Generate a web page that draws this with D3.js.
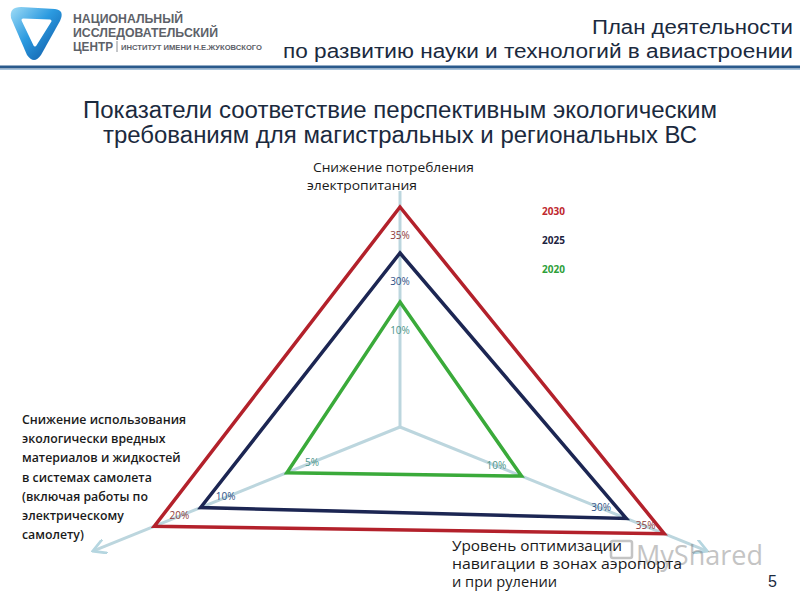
<!DOCTYPE html>
<html><head><meta charset="utf-8">
<script src="https://cdn.jsdelivr.net/npm/d3@7"></script>
<style>body{margin:0;background:#fff}svg{display:block}</style>
</head><body>
<svg id="c" width="800" height="600"></svg>
<script>
// ---- data ----
const axisNames = ["top", "right", "left"];
const axisLabelTop = ["Снижение потребления", "электропитания"];
const axisLabelRight = ["Уровень оптимизации", "навигации в зонах аэропорта", "и при рулении"];
const axisLabelLeft = ["Снижение использования", "экологически вредных", "материалов и жидкостей", "в системах самолета", "(включая работы по", "электрическому", "самолету)"];
const years = ["2030", "2025", "2020"];
const values2030 = [35, 35, 20];
const values2025 = [30, 30, 10];
const values2020 = [10, 10, 5];
const seriesValues = [values2030, values2025, values2020];

// ---- layout / style ----
const svg = d3.select("#c");
const cx = 400, cy = 427;
const deg = Math.PI / 180;
const axisAngle = { top: -90 * deg, right: 22 * deg, left: 158 * deg };
const axisLen = { top: 236, right: 330, left: 330 };
// per-axis (non-uniform, as drawn in the original) radial scales
const rScale = {
  top: d3.scaleLinear().domain([0, 10, 30, 35]).range([0, 125, 174, 220]),
  right: d3.scaleLinear().domain([0, 10, 30, 35]).range([0, 131, 244, 285]),
  left: d3.scaleLinear().domain([0, 5, 10, 20]).range([0, 122, 215, 265])
};
const lineColor = d3.scaleOrdinal().domain(years).range(["#b3212b", "#1c2653", "#3aaa3a"]);
const labelColor = d3.scaleOrdinal().domain(years).range(["#8e3b3b", "#2f5185", "#4a9488"]);
const legendColor = d3.scaleOrdinal().domain(years).range(["#c0282e", "#1c2340", "#2ea03a"]);

function pt(axis, v) {
  const r = rScale[axis](v), a = axisAngle[axis];
  return [cx + r * Math.cos(a), cy + r * Math.sin(a)];
}

// ---- header ----
const defs = svg.append("defs");
const g1 = defs.append("linearGradient").attr("id", "lg").attr("x1", "0").attr("y1", "0").attr("x2", "1").attr("y2", "1");
g1.append("stop").attr("offset", "0").attr("stop-color", "#9fdcf6");
g1.append("stop").attr("offset", "0.45").attr("stop-color", "#2b9ae0");
g1.append("stop").attr("offset", "1").attr("stop-color", "#0b4f9c");
svg.append("path")
  .attr("d", "M11,18 Q9,7 21,7 L55,9 Q65,10 60,21 L41,55 Q34,65 27,55 Z")
  .attr("fill", "url(#lg)");
svg.append("path")
  .attr("d", "M23,20 L50,21 L35,45 Z")
  .attr("fill", "#fff").attr("stroke", "#fff").attr("stroke-width", 3).attr("stroke-linejoin", "round");

const hdr = svg.append("g").attr("font-family", "Liberation Sans, Arial, sans-serif").attr("font-weight", "bold").attr("fill", "#5d6168");
hdr.append("text").attr("x", 73).attr("y", 23).attr("font-size", 12.5).attr("textLength", 110).attr("lengthAdjust", "spacingAndGlyphs").text("НАЦИОНАЛЬНЫЙ");
hdr.append("text").attr("x", 73).attr("y", 37).attr("font-size", 12.5).attr("textLength", 145).attr("lengthAdjust", "spacingAndGlyphs").text("ИССЛЕДОВАТЕЛЬСКИЙ");
hdr.append("text").attr("x", 73).attr("y", 51).attr("font-size", 12.5).attr("textLength", 40).attr("lengthAdjust", "spacingAndGlyphs").text("ЦЕНТР");
hdr.append("line").attr("x1", 117).attr("x2", 117).attr("y1", 41).attr("y2", 52).attr("stroke", "#8a8e94").attr("stroke-width", 1);
hdr.append("text").attr("x", 121).attr("y", 50).attr("font-size", 6.3).attr("textLength", 141).attr("lengthAdjust", "spacingAndGlyphs").text("ИНСТИТУТ ИМЕНИ Н.Е.ЖУКОВСКОГО");

const ht = svg.append("g").attr("font-family", "Liberation Sans, Arial, sans-serif").attr("fill", "#1b2a3e").attr("text-anchor", "end");
ht.append("text").attr("x", 793).attr("y", 34).attr("font-size", 20).attr("textLength", 201).attr("lengthAdjust", "spacingAndGlyphs").text("План деятельности");
ht.append("text").attr("x", 793).attr("y", 58).attr("font-size", 20).attr("textLength", 510).attr("lengthAdjust", "spacingAndGlyphs").text("по развитию  науки и технологий  в авиастроении");
svg.append("line").attr("x1", 0).attr("x2", 800).attr("y1", 67).attr("y2", 67).attr("stroke", "#2a5a8c").attr("stroke-width", 3);
svg.append("line").attr("x1", 0).attr("x2", 800).attr("y1", 69.5).attr("y2", 69.5).attr("stroke", "#a9c4dc").attr("stroke-width", 1);

// ---- title ----
const tt = svg.append("g").attr("font-family", "Liberation Sans Narrow, Arial Narrow, Liberation Sans, sans-serif").attr("fill", "#1b2a3e").attr("text-anchor", "middle").attr("font-size", 23);
tt.append("text").attr("x", 400).attr("y", 118).attr("textLength", 634).attr("lengthAdjust", "spacingAndGlyphs").text("Показатели соответствие перспективным экологическим");
tt.append("text").attr("x", 400).attr("y", 143).attr("textLength", 594).attr("lengthAdjust", "spacingAndGlyphs").text("требованиям для магистральных и региональных ВС");

// ---- axes ----
defs.append("marker").attr("id", "arr").attr("viewBox", "0 0 10 10").attr("refX", 8).attr("refY", 5)
  .attr("markerWidth", 5).attr("markerHeight", 5).attr("orient", "auto")
  .append("path").attr("d", "M0,0 L9,5 L0,10").attr("fill", "none").attr("stroke", "#b5d6e0").attr("stroke-width", 1.8);
const axG = svg.append("g");
axisNames.forEach(a => {
  const ang = axisAngle[a];
  axG.append("line").attr("x1", cx).attr("y1", cy)
    .attr("x2", cx + axisLen[a] * Math.cos(ang)).attr("y2", cy + axisLen[a] * Math.sin(ang))
    .attr("stroke", "#bcd6de").attr("stroke-width", 3)
    .attr("marker-end", a === "top" ? null : "url(#arr)");
});

// ---- series polygons ----
const line = d3.line().curve(d3.curveLinearClosed);
years.forEach((y, i) => {
  const pts = axisNames.map((a, j) => pt(a, seriesValues[i][j]));
  svg.append("path").attr("d", line(pts)).attr("fill", "none")
    .attr("stroke", lineColor(y)).attr("stroke-width", 3.5).attr("stroke-linejoin", "miter");
});

// ---- value labels ----
const lab = svg.append("g").attr("font-family", "Open Sans, Noto Sans, sans-serif").attr("font-size", 10).attr("text-anchor", "middle");
years.forEach((y, i) => {
  axisNames.forEach((a, j) => {
    const v = seriesValues[i][j];
    const inset = (a === "right" && i === 0) ? 20 : 27;
    const r = rScale[a](v) - inset, ang = axisAngle[a];
    lab.append("text").attr("x", cx + r * Math.cos(ang)).attr("y", cy + r * Math.sin(ang) + (a === "top" ? 5 : 3))
      .attr("fill", labelColor(y)).text(v + "%");
  });
});

// ---- watermark (as in the reference, faint, partly under the axis title) ----
const wm = svg.append("g").attr("opacity", 0.4);
wm.append("rect").attr("x", 611).attr("y", 541).attr("width", 21).attr("height", 17).attr("rx", 2).attr("fill", "none").attr("stroke", "#6d6d6d").attr("stroke-width", 2.5);
wm.append("text").attr("x", 636).attr("y", 565).attr("font-family", "Open Sans, sans-serif").attr("font-size", 28)
  .attr("textLength", 127).attr("lengthAdjust", "spacingAndGlyphs")
  .attr("fill", "#6d6d6d").text("MyShared");

// ---- axis titles ----
const at = svg.append("g").attr("font-family", "Open Sans, Noto Sans, sans-serif").attr("fill", "#1a1a1a");
const topW = [161, 110];
axisLabelTop.forEach((t, i) => at.append("text").attr("x", i === 0 ? 313 : 307).attr("y", 172 + i * 18).attr("font-size", 13).attr("textLength", topW[i]).attr("lengthAdjust", "spacingAndGlyphs").text(t));
axisLabelLeft.forEach((t, i) => at.append("text").attr("x", 22).attr("y", 424 + i * 19.2).attr("font-size", 12.3).attr("font-weight", 600).text(t));
const rightW = [170, 230, 105];
axisLabelRight.forEach((t, i) => at.append("text").attr("x", 452).attr("y", 551 + i * 18).attr("font-size", 15).attr("font-weight", 500).attr("textLength", rightW[i]).attr("lengthAdjust", "spacingAndGlyphs").text(t));

// ---- legend ----
const lg = svg.append("g").attr("font-family", "Open Sans, Noto Sans, sans-serif").attr("font-size", 10).attr("font-weight", "bold");
years.forEach((y, i) => lg.append("text").attr("x", 542).attr("y", 215 + i * 29).attr("fill", legendColor(y)).text(y));

// ---- page number ----
svg.append("text").attr("x", 768).attr("y", 587).attr("font-family", "Liberation Sans, Arial, sans-serif").attr("font-size", 16).attr("fill", "#1b2a3e").text("5");
</script>
</body></html>
